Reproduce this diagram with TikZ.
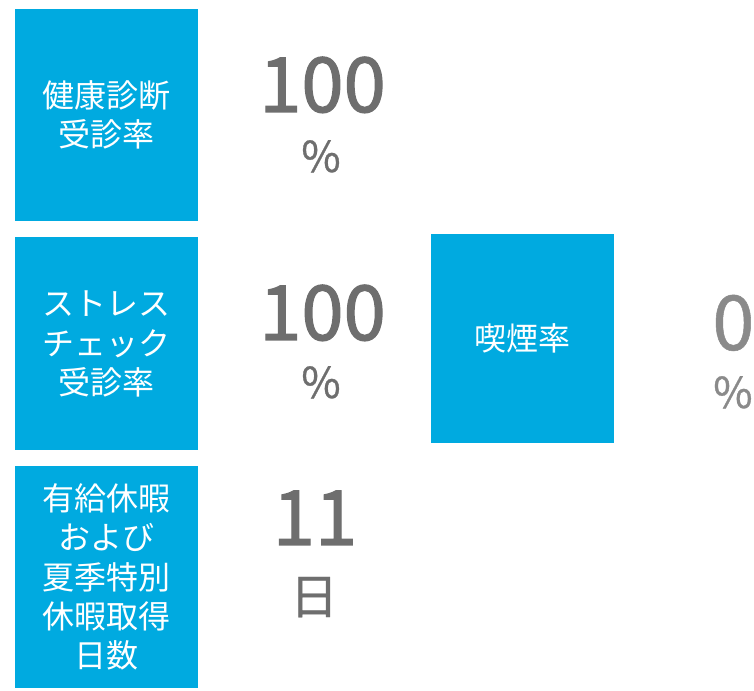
\documentclass[tikz,border=0pt]{standalone}
\usepackage{fontspec}
\setmainfont{Noto Sans CJK JP}
\newfontfamily\numfont[FakeBold=1.6]{Noto Sans CJK JP}
\newfontfamily\unitfont[FakeBold=0.7]{Noto Sans CJK JP}
\usetikzlibrary{positioning}

\definecolor{tileblue}{HTML}{00AAE0}
\definecolor{numgray}{HTML}{6E6E6E}
\definecolor{lightgray}{HTML}{8A8A8A}

\begin{document}
\begin{tikzpicture}[x=0.75pt, y=-0.75pt,
  tile/.style={fill=tileblue, text=white, align=center, inner sep=0pt,
    minimum width=137.25pt, font=\fontsize{24pt}{29.5pt}\selectfont},
  bignum/.style={text=numgray, anchor=base, inner sep=0pt,
    font=\numfont\fontsize{57pt}{57pt}\selectfont},
  unit/.style={text=numgray, anchor=base, inner sep=0pt,
    font=\unitfont\fontsize{32pt}{32pt}\selectfont}]
\useasboundingbox (0,0) rectangle (754,691);

\node [tile, minimum height=159pt] (checkup) at (106.5,115) {健康診断\\受診率};
\node [tile, minimum height=159.75pt] (stress) at (106.5,344) {ストレス\\チェック\\受診率};
\node [tile, minimum height=166.5pt] (leave) at (106.5,577) {有給休暇\\および\\夏季特別\\休暇取得\\日数};
\node [tile, minimum height=156.75pt] (smoking) at (522.5,338.5) {喫煙率};

\node [bignum] (checkupnum) at (322.5,112) {100};
\node [unit] (checkupunit) at (321,172) {\%};
\node [bignum] (stressnum) at (322.5,340) {100};
\node [unit] (stressunit) at (321,398) {\%};
\node [bignum] (leavenum) at (315,545) {11};
\node [unit, font=\unitfont\fontsize{36pt}{36pt}\selectfont] (leaveunit) at (314,614) {日};
\node [bignum, anchor=base west, text=lightgray, font=\unitfont\fontsize{57pt}{57pt}\selectfont] (smokingnum) at (712,350) {0};
\node [unit, anchor=base west, text=lightgray] (smokingunit) at (713,408) {\%};
\end{tikzpicture}
\end{document}
